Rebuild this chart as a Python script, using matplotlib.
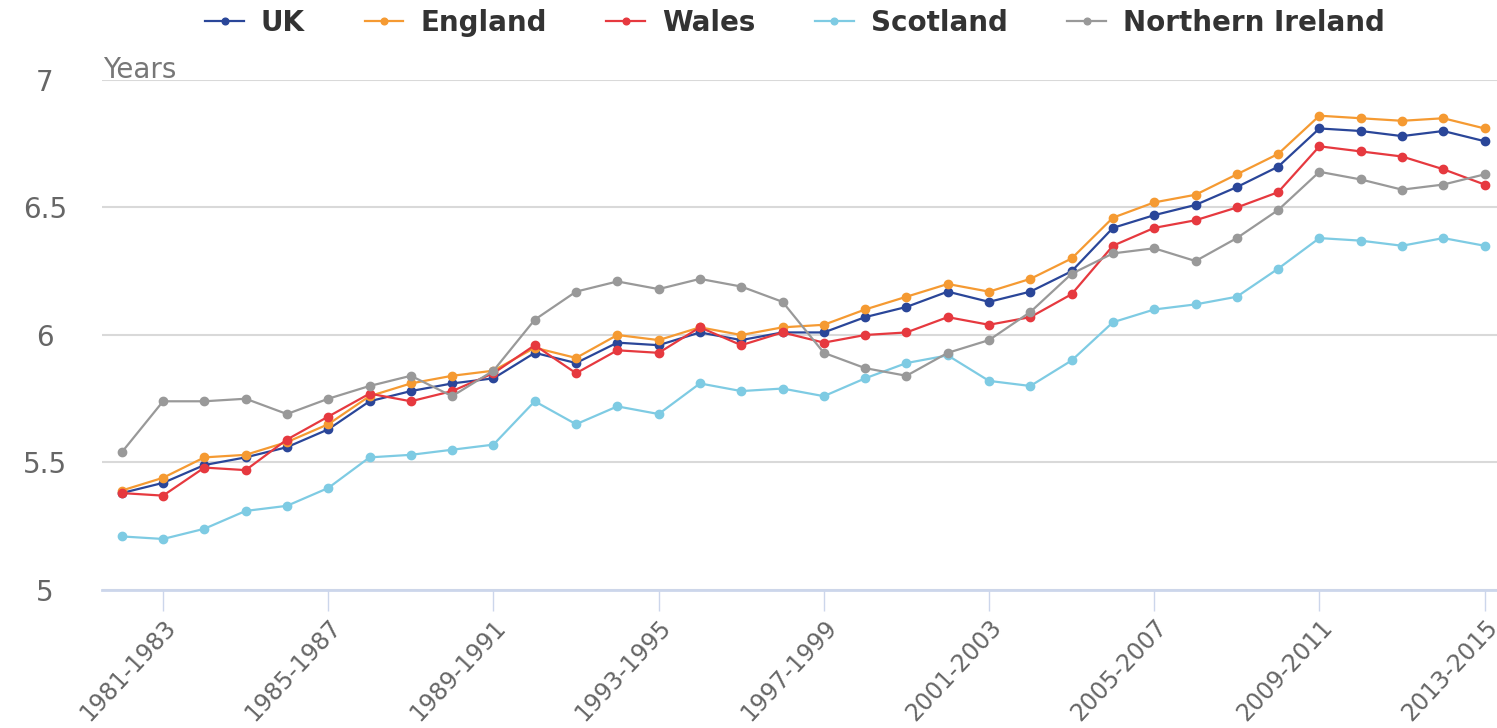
import numpy as np
import matplotlib.pyplot as plt

# 3-year periods, 1980-1982 .. 2013-2015
periods = [f"{y}-{y + 2}" for y in range(1980, 2014)]

uk = [5.38, 5.42, 5.49, 5.52, 5.56, 5.63, 5.74, 5.78, 5.81, 5.83, 5.93, 5.89,
      5.97, 5.96, 6.01, 5.98, 6.01, 6.01, 6.07, 6.11, 6.17, 6.13, 6.17, 6.25,
      6.42, 6.47, 6.51, 6.58, 6.66, 6.81, 6.80, 6.78, 6.80, 6.76]
england = [5.39, 5.44, 5.52, 5.53, 5.58, 5.65, 5.76, 5.81, 5.84, 5.86, 5.95, 5.91,
           6.00, 5.98, 6.03, 6.00, 6.03, 6.04, 6.10, 6.15, 6.20, 6.17, 6.22, 6.30,
           6.46, 6.52, 6.55, 6.63, 6.71, 6.86, 6.85, 6.84, 6.85, 6.81]
wales = [5.38, 5.37, 5.48, 5.47, 5.59, 5.68, 5.77, 5.74, 5.78, 5.85, 5.96, 5.85,
         5.94, 5.93, 6.03, 5.96, 6.01, 5.97, 6.00, 6.01, 6.07, 6.04, 6.07, 6.16,
         6.35, 6.42, 6.45, 6.50, 6.56, 6.74, 6.72, 6.70, 6.65, 6.59]
scotland = [5.21, 5.20, 5.24, 5.31, 5.33, 5.40, 5.52, 5.53, 5.55, 5.57, 5.74, 5.65,
            5.72, 5.69, 5.81, 5.78, 5.79, 5.76, 5.83, 5.89, 5.92, 5.82, 5.80, 5.90,
            6.05, 6.10, 6.12, 6.15, 6.26, 6.38, 6.37, 6.35, 6.38, 6.35]
n_ireland = [5.54, 5.74, 5.74, 5.75, 5.69, 5.75, 5.80, 5.84, 5.76, 5.86, 6.06, 6.17,
             6.21, 6.18, 6.22, 6.19, 6.13, 5.93, 5.87, 5.84, 5.93, 5.98, 6.09, 6.24,
             6.32, 6.34, 6.29, 6.38, 6.49, 6.64, 6.61, 6.57, 6.59, 6.63]

series = [("UK", uk, "#2a4699"),
          ("England", england, "#f59a32"),
          ("Wales", wales, "#e6393f"),
          ("Scotland", scotland, "#7ecbe3"),
          ("Northern Ireland", n_ireland, "#999999")]

fig = plt.figure(figsize=(14.97, 7.28), dpi=100)
ax = fig.add_axes([0.0681, 0.1896, 0.9319, 0.7005])

x = np.arange(len(periods))
for name, vals, col in series:
    ax.plot(x, vals, color=col, lw=1.6, marker="o", ms=6, label=name)

ax.set_ylim(5, 7)
ax.set_yticks([5, 5.5, 6, 6.5, 7])
ax.set_yticklabels(["5", "5.5", "6", "6.5", "7"])
ax.set_xlim(-0.48, 33.3)
ax.set_xticks(x[1::4])
ax.set_xticklabels(periods[1::4], rotation=47, ha="right", rotation_mode="anchor")

ax.grid(axis="y", color="#d9d9d9", lw=1.5)
ax.set_axisbelow(True)
for s in ["top", "right", "left"]:
    ax.spines[s].set_visible(False)
ax.spines["bottom"].set_color("#ccd6eb")
ax.spines["bottom"].set_linewidth(2)
ax.tick_params(axis="x", length=15, width=1, color="#ccd6eb", labelcolor="#666666",
               labelsize=17, pad=3)
ax.tick_params(axis="y", length=0, labelcolor="#666666", labelsize=20, pad=41)
for lab in ax.get_yticklabels():
    lab.set_horizontalalignment("center")

ax.text(0.001, 0.993, "Years", transform=ax.transAxes, color="#777777",
        fontsize=20, ha="left", va="bottom")

leg = fig.legend(loc="upper center", bbox_to_anchor=(0.531, 1.022), ncol=5,
                 frameon=False, handlelength=1.4, columnspacing=2.15,
                 handletextpad=0.6, prop={"weight": "bold", "size": 20},
                 markerscale=0.8)
for t in leg.get_texts():
    t.set_color("#333333")

fig.savefig("out.png", dpi=100)
